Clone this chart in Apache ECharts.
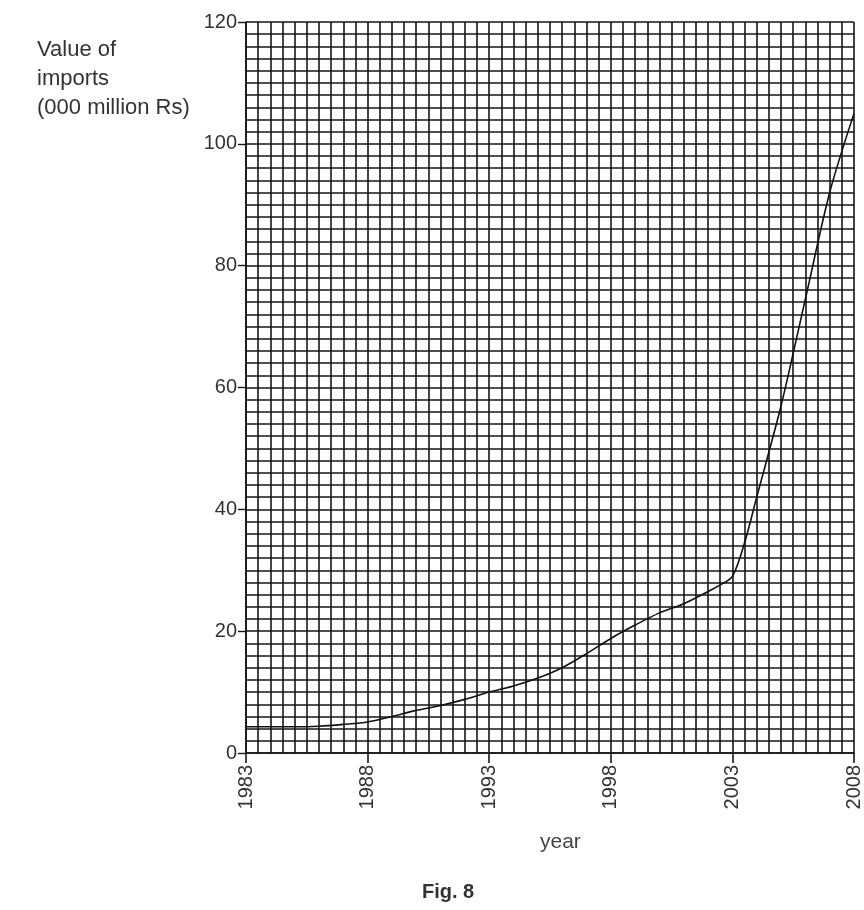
<!DOCTYPE html>
<html>
<head>
<meta charset="utf-8" />
<title>Value of imports</title>
<script src="https://cdn.jsdelivr.net/npm/echarts@6/dist/echarts.min.js"></script>
<style>
  body { margin: 0; background: #fff; }
  #main { width: 864px; height: 910px; }
</style>
</head>
<body>
<div id="main"></div>
<script>
// data
var years = [1983, 1984, 1985, 1986, 1987, 1988, 1989, 1990, 1991, 1992, 1993, 1994, 1995,
             1996, 1997, 1998, 1999, 2000, 2001, 2002, 2002.5, 2003, 2003.5, 2004, 2005, 2006, 2007, 2008];
var imports = [4.3, 4.3, 4.3, 4.4, 4.7, 5.1, 6.0, 7.0, 7.8, 8.8, 10.0, 11.0, 12.3,
               14.0, 16.3, 18.8, 21.0, 23.0, 24.5, 26.5, 27.6, 29.0, 34.5, 42.0, 57.0, 74.5, 92.0, 105.0];
var yTicks = [0, 20, 40, 60, 80, 100, 120];
var startYear = 1983;

var chart = echarts.init(document.getElementById('main'));

// x axis counts years from 1983 so the 5-year ticks line up with min
var points = years.map(function (y, i) { return [y - startYear, imports[i]]; });

var font = 'Liberation Sans, Arial, sans-serif';
var gridLine = { show: true, lineStyle: { color: '#151515', width: 1.6 } };

var option = {
  animation: false,
  grid: { left: 246, right: 5, top: 22, bottom: 157 },
  title: {
    text: 'Value of\nimports\n(000 million Rs)',
    left: 32, top: 30,
    textStyle: { fontFamily: font, fontSize: 22, fontWeight: 'normal', color: '#333', lineHeight: 29 }
  },
  xAxis: [
    { // fine grid, every half year
      type: 'value', min: 0, max: 25, interval: 0.5,
      axisLine: { show: false }, axisTick: { show: false }, axisLabel: { show: false },
      splitLine: gridLine
    },
    { // labelled years
      type: 'value', min: 0, max: 25, interval: 5, position: 'bottom',
      axisLine: { show: true, lineStyle: { color: '#151515', width: 1.6 } },
      axisTick: { show: true, length: 10, lineStyle: { color: '#151515', width: 1.6 } },
      splitLine: { show: false },
      axisLabel: {
        rotate: 90, margin: 12, fontFamily: font, fontSize: 20, color: '#333',
        formatter: function (v) { return String(v + startYear); }
      }
    }
  ],
  yAxis: [
    { // fine grid, every 2 units
      type: 'value', min: 0, max: 120, interval: 2,
      axisLine: { show: false }, axisTick: { show: false }, axisLabel: { show: false },
      splitLine: gridLine
    },
    {
      type: 'value', min: 0, max: 120, interval: 20, position: 'left',
      axisLine: { show: true, lineStyle: { color: '#151515', width: 1.6 } },
      axisTick: { show: true, length: 8, lineStyle: { color: '#151515', width: 1.4 } },
      splitLine: { show: false },
      axisLabel: {
        margin: 9, fontFamily: font, fontSize: 20, color: '#333',
        formatter: function (v) { return yTicks.indexOf(v) >= 0 ? String(v) : ''; }
      }
    }
  ],
  graphic: [
    {
      type: 'text', left: 540, top: 832,
      style: { text: 'year', font: '21px ' + font, fill: '#444' }
    },
    {
      type: 'text', left: 422, top: 882,
      style: { text: 'Fig. 8', font: 'bold 20px ' + font, fill: '#333' }
    }
  ],
  series: [{
    type: 'line',
    xAxisIndex: 0, yAxisIndex: 0,
    data: points,
    smooth: 0.3,
    showSymbol: false,
    lineStyle: { color: '#111', width: 1.6 }
  }]
};

chart.setOption(option);
</script>
</body>
</html>
